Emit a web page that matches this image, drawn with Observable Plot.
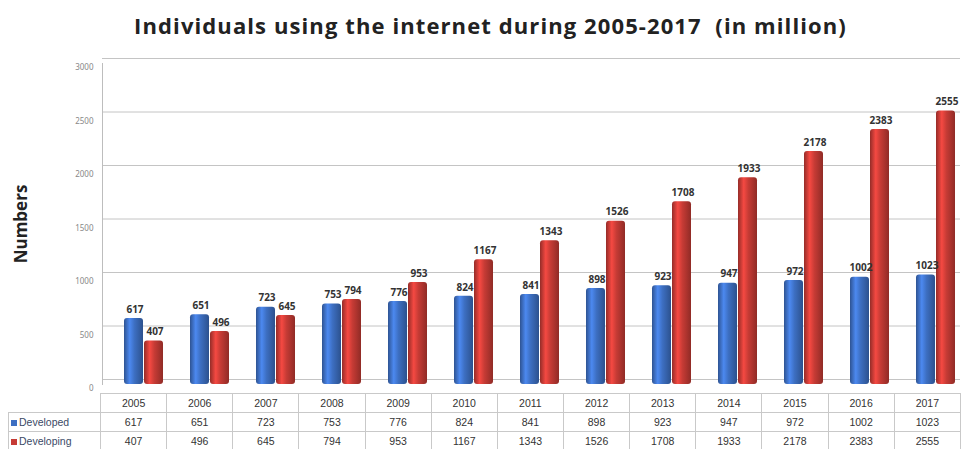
<!DOCTYPE html>
<html>
<head>
<meta charset="utf-8">
<script src="https://cdn.jsdelivr.net/npm/d3@7"></script>
<script src="https://cdn.jsdelivr.net/npm/@observablehq/plot@0.6"></script>
<style>
  html, body { margin: 0; padding: 0; background: #fff; }
  body { width: 961px; height: 449px; overflow: hidden; font-family: "Liberation Sans", Arial, sans-serif; }
  #title { height: 45px; line-height: 50px; text-align: center; font-family: "Open Sans", sans-serif; font-weight: bold; font-size: 22px; letter-spacing: 1.1px; color: #222; padding-left: 20px; box-sizing: border-box; }
  #chart svg { display: block; }
  #chart [aria-label="y-axis label"] text { font-size: 17px; font-weight: bold; fill: #222; font-family: "Open Sans", sans-serif; }
  table { border-collapse: collapse; table-layout: fixed; margin-left: 8px; width: 953px; }
  td { border: 1px solid #c9c9c9; height: 18px; padding: 0; text-align: center; font-size: 10.5px; color: #333; white-space: nowrap; overflow: hidden; }
  td.blank { border: none; border-right: 1px solid #c9c9c9; }
  td.lab { text-align: left; padding-left: 2px; color: #3b4a66; }
  .sq { display: inline-block; width: 6px; height: 6px; margin-right: 2px; vertical-align: middle; }
</style>
</head>
<body>
<div id="title">Individuals using the internet during 2005-2017&nbsp; (in million)</div>
<div id="chart"></div>
<div id="table"></div>
<script>
const years = ["2005","2006","2007","2008","2009","2010","2011","2012","2013","2014","2015","2016","2017"];
const seriesNames = ["Developed", "Developing"];
const developed = [617, 651, 723, 753, 776, 824, 841, 898, 923, 947, 972, 1002, 1023];
const developing = [407, 496, 645, 794, 953, 1167, 1343, 1526, 1708, 1933, 2178, 2383, 2555];
const yTicks = [0, 500, 1000, 1500, 2000, 2500, 3000];
const seriesColors = ["#3d6fc2", "#c63b35"];

const rows = [];
years.forEach((yr, i) => {
  rows.push({year: yr, series: seriesNames[0], value: developed[i]});
  rows.push({year: yr, series: seriesNames[1], value: developing[i]});
});

const chart = Plot.plot({
  width: 961,
  height: 348,
  marginLeft: 100,
  marginRight: 0,
  marginTop: 18,
  marginBottom: 9,
  fx: {domain: years, padding: 0, axis: null},
  x: {domain: seriesNames, paddingInner: 0.05, paddingOuter: 0.6, align: 0.82, axis: null},
  y: {domain: [0, 3000], ticks: yTicks, label: null},
  color: {domain: seriesNames, range: ["url(#gBlue)", "url(#gRed)"]},
  marks: [
    Plot.gridY(yTicks, {stroke: "#c4c4c4", strokeOpacity: 1, dy: -5}),
    Plot.frame({anchor: "left", facetAnchor: "left", stroke: "#bdbdbd"}),
    Plot.axisY(yTicks, {tickSize: 0, tickPadding: 9, fontSize: 8, fill: "#888", dy: 4, tickFormat: d => String(d), label: null}),
    Plot.axisY([], {label: "Numbers", labelArrow: "none", labelAnchor: "center", labelOffset: 88, tickSize: 0}),
    Plot.barY(rows, {fx: "year", x: "series", y: "value", fill: "series", rx: 3}),
    Plot.text(rows, {fx: "year", x: "series", y: "value", text: d => String(d.value), dy: -9, dx: 1, fontSize: 10, fill: "#333", fontWeight: "bold"})
  ]
});

const svg = d3.select(chart);
const defs = svg.insert("defs", ":first-child");
function grad(id, c) {
  const base = d3.color(c);
  const g = defs.append("linearGradient").attr("id", id).attr("x1", 0).attr("x2", 1).attr("y1", 0).attr("y2", 0);
  g.append("stop").attr("offset", "0%").attr("stop-color", base.darker(0.8));
  g.append("stop").attr("offset", "30%").attr("stop-color", base.brighter(0.6));
  g.append("stop").attr("offset", "55%").attr("stop-color", base);
  g.append("stop").attr("offset", "100%").attr("stop-color", base.darker(0.9));
}
grad("gBlue", seriesColors[0]);
grad("gRed", seriesColors[1]);
document.getElementById("chart").appendChild(chart);

// data table
const table = d3.select("#table").append("table");
const cg = table.append("colgroup");
cg.append("col").style("width", "92px");
years.forEach(() => cg.append("col"));
const r0 = table.append("tr");
r0.append("td").attr("class", "blank");
years.forEach(y => r0.append("td").text(y));
[[seriesNames[0], developed, seriesColors[0]], [seriesNames[1], developing, seriesColors[1]]].forEach(([name, vals, col]) => {
  const tr = table.append("tr");
  const lab = tr.append("td").attr("class", "lab");
  lab.append("span").attr("class", "sq").style("background", col);
  lab.append("span").text(name);
  vals.forEach(v => tr.append("td").text(v));
});
</script>
</body>
</html>
